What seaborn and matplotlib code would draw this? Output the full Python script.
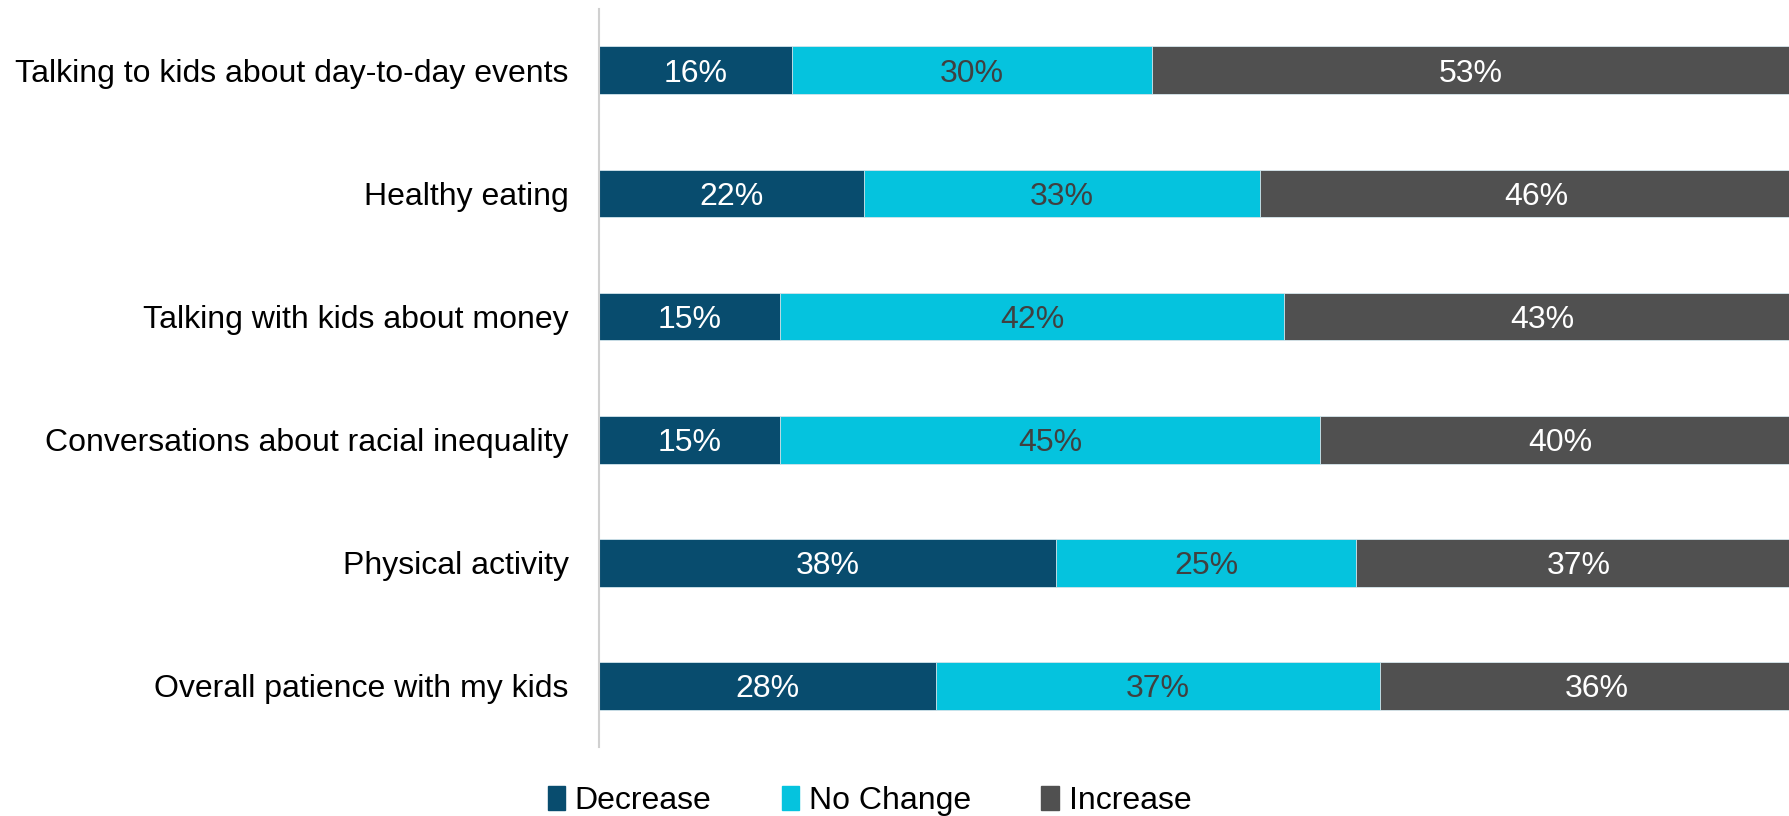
import numpy as np
import pandas as pd
import matplotlib.pyplot as plt
import seaborn as sns

# Survey items (top to bottom) and share of responses in %
items = [
    "Talking to kids about day-to-day events",
    "Healthy eating",
    "Talking with kids about money",
    "Conversations about racial inequality",
    "Physical activity",
    "Overall patience with my kids",
]
decrease = [16, 22, 15, 15, 38, 28]
no_change = [30, 33, 42, 45, 25, 37]
increase = [53, 46, 43, 40, 37, 36]

series = ["Decrease", "No Change", "Increase"]
colors = ["#084C6E", "#05C3DE", "#505050"]
text_colors = ["white", "#404040", "white"]

df = pd.DataFrame({"item": items, "Decrease": decrease,
                   "No Change": no_change, "Increase": increase})

# cumulative ends for stacking
cum = df[series].cumsum(axis=1)

sns.set_style("white")
plt.rcParams['font.family'] = ['Liberation Sans', 'DejaVu Sans']

fig = plt.figure(figsize=(17.89, 8.16), dpi=100)
ax = fig.add_axes([0.335, 0.0845, 0.665, 0.9045])

# draw the widest (total) first, then the shorter ones on top
for s, c in reversed(list(zip(series, colors))):
    sns.barplot(x=cum[s], y=df["item"], color=c, orient="h", width=0.39,
                saturation=1, linewidth=0.6, edgecolor="#d8e8ee", ax=ax)

# value labels centred in each segment
for i in range(len(items)):
    start = 0
    for s, tc in zip(series, text_colors):
        v = df.loc[i, s]
        ax.text(start + v / 2, i, f"{v}%", ha="center", va="center_baseline",
                color=tc, fontsize=23)
        start += v

ax.set_xlim(0, 99)
ax.set_ylim(5.5, -0.5)
ax.set_xlabel("")
ax.set_ylabel("")
ax.set_xticks([])
ax.tick_params(axis="y", length=0, labelsize=23, pad=22, labelcolor="black")
for lbl in ax.get_yticklabels():
    lbl.set_verticalalignment("center_baseline")
for side in ["top", "right", "bottom"]:
    ax.spines[side].set_visible(False)
ax.spines["left"].set_color("#d0d0d0")
ax.spines["left"].set_linewidth(1.5)

handles = [plt.Rectangle((0, 0), 1, 1, color=c) for c in colors]
leg = fig.legend(handles, series, loc="center", bbox_to_anchor=(0.486, 0.018),
                 ncol=3, frameon=False, fontsize=23, handlelength=0.55,
                 handleheight=0.75, handletextpad=0.3, columnspacing=2.2)
for t in leg.get_texts():
    t.set_color("black")

fig.savefig("out.png", dpi=100)
